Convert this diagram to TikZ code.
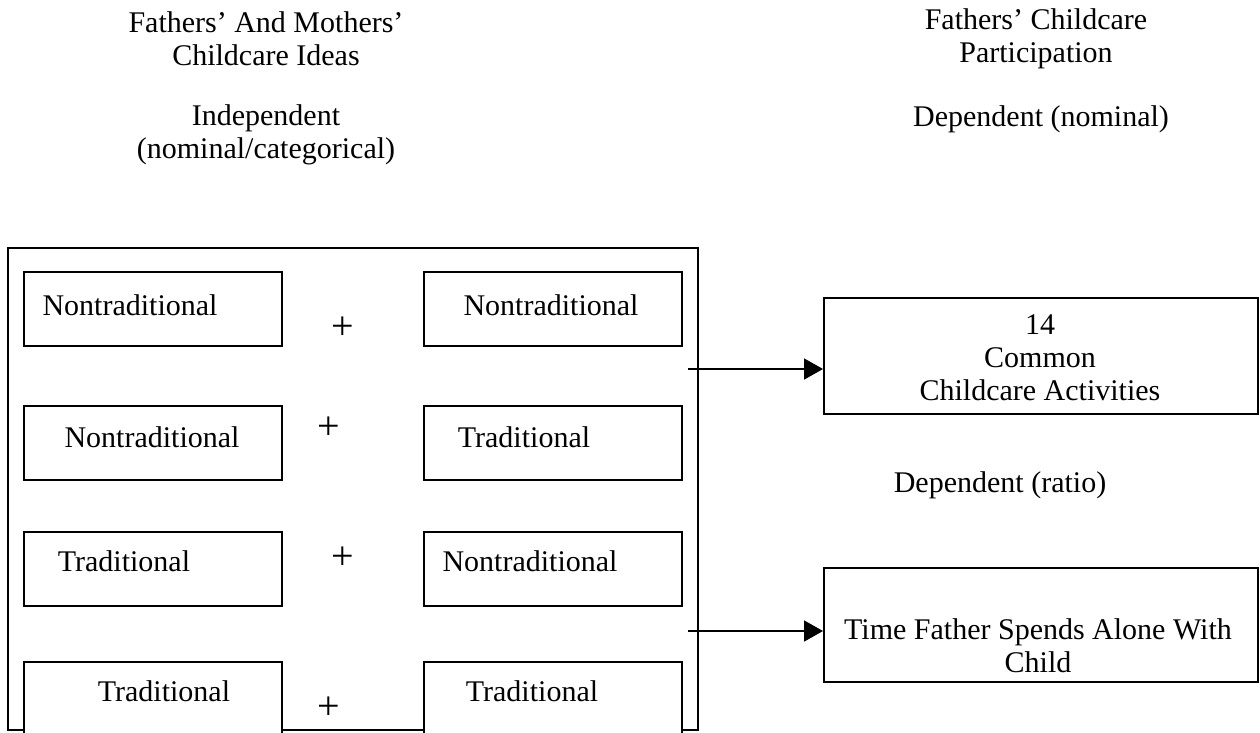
\documentclass[tikz,border=0pt]{standalone}
\usepackage{fontspec}
\setmainfont{Liberation Serif}
\usetikzlibrary{arrows.meta}
\begin{document}
\begin{tikzpicture}[x=1pt,y=-1pt,
  every node/.style={font=\fontsize{30}{33}\selectfont},
  outerbox/.style={draw,line width=1.8pt,anchor=north west,inner sep=0pt,minimum width=690pt,minimum height=482pt},
  cellbox/.style={draw,fill=white,line width=1.8pt,anchor=north west,inner sep=0pt,minimum width=258pt,minimum height=74pt},
  resbox/.style={draw,line width=1.8pt,anchor=north west,inner sep=0pt,minimum width=434pt},
  celltext/.style={anchor=base,inner sep=0pt},
  plussign/.style={inner sep=0pt,font=\fontsize{40}{40}\selectfont},
  head/.style={align=center,inner sep=0pt},
  arr/.style={line width=1.8pt,-{Triangle[length=19pt,width=21pt]}}
]
\useasboundingbox (0,0) rectangle (1260,732);
\fill[white] (0,0) rectangle (1260,732);

% headers
\node[head] (h1) at (266,39) {Fathers’ And Mothers’\\Childcare Ideas};
\node[head] (h2) at (266,135) {Independent\\(nominal/categorical)};
\node[head] (h3) at (1036,39) {Fathers’ Childcare\\Participation};
\node[head] (h4) at (1041,119) {Dependent (nominal)};
\node[head] (h5) at (1000,485) {Dependent (ratio)};

% outer box
\node[outerbox] (outer) at (7,247) {};

% inner boxes
\node[cellbox] (b1l) at (23,271) {};
\node[cellbox] (b1r) at (423,271) {};
\node[cellbox] (b2l) at (23,405) {};
\node[cellbox] (b2r) at (423,405) {};
\node[cellbox] (b3l) at (23,531) {};
\node[cellbox] (b3r) at (423,531) {};
\node[cellbox] (b4l) at (23,661) {};
\node[cellbox] (b4r) at (423,661) {};

% cell texts
\node[celltext] (t1l) at (130,315) {Nontraditional};
\node[celltext] (t1r) at (551,315) {Nontraditional};
\node[celltext] (t2l) at (152,447) {Nontraditional};
\node[celltext] (t2r) at (524,447) {Traditional};
\node[celltext] (t3l) at (124,571) {Traditional};
\node[celltext] (t3r) at (530,571) {Nontraditional};
\node[celltext] (t4l) at (164,701) {Traditional};
\node[celltext] (t4r) at (532,701) {Traditional};

% plus signs
\node[plussign] (p1) at (343,328) {+};
\node[plussign] (p2) at (329,428) {+};
\node[plussign] (p3) at (343,558) {+};
\node[plussign] (p4) at (329,708) {+};

% result boxes
\node[resbox,minimum height=116pt] (r1) at (823,297) {};
\node[head] (r1t) at (1040,358) {14\\Common\\Childcare Activities};
\node[resbox,minimum height=114pt] (r2) at (823,567) {};
\node[head] (r2t) at (1038,646) {Time Father Spends Alone With\\Child};

% arrows
\coordinate (s1) at (688,369);
\coordinate (s2) at (688,631);
\draw[arr] (s1) -- (s1 -| r1.west);
\draw[arr] (s2) -- (s2 -| r2.west);
\end{tikzpicture}
\end{document}
